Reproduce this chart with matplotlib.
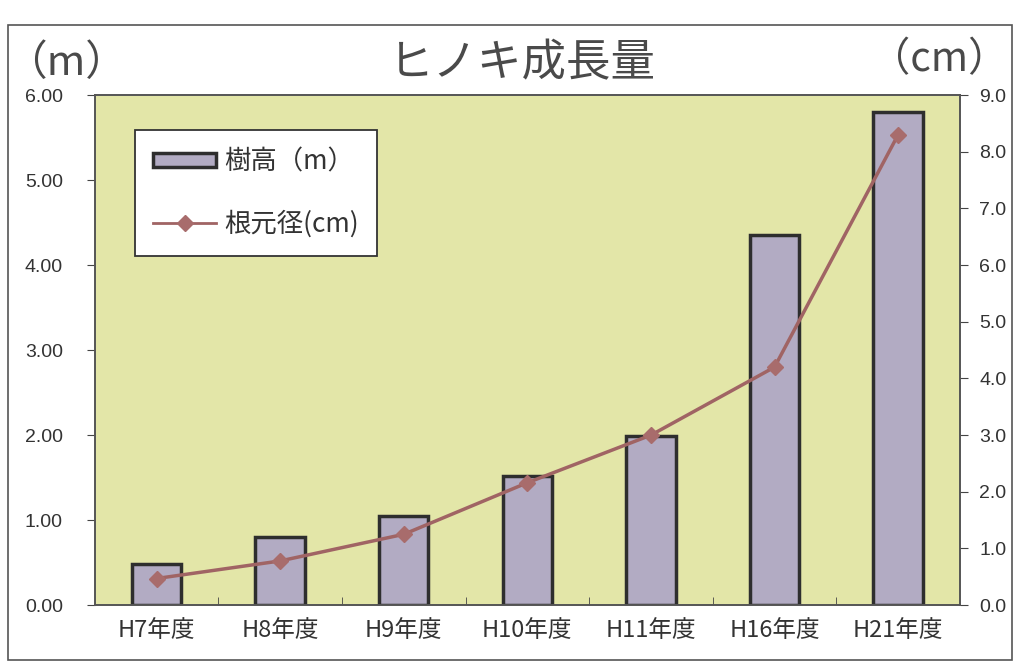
import matplotlib
matplotlib.use("Agg")
import matplotlib.pyplot as plt
from matplotlib.patches import Rectangle, Patch
from matplotlib.lines import Line2D
import numpy as np

categories = ["H7年度", "H8年度", "H9年度", "H10年度", "H11年度", "H16年度", "H21年度"]
height_m = [0.48, 0.80, 1.05, 1.52, 1.99, 4.36, 5.80]
diameter_cm = [0.47, 0.78, 1.25, 2.16, 3.0, 4.2, 8.3]
left_ticks = [0.0, 1.0, 2.0, 3.0, 4.0, 5.0, 6.0]
right_ticks = [0.0, 1.0, 2.0, 3.0, 4.0, 5.0, 6.0, 7.0, 8.0, 9.0]

CJK = ["Noto Sans CJK JP", "DejaVu Sans"]
NUM = ["Liberation Sans", "DejaVu Sans"]
plt.rcParams['font.family'] = CJK

BAR = "#b2abc3"
EDGE = "#2e2e2e"
LINE = "#a06464"
TXT = "#333333"

fig = plt.figure(figsize=(10.19, 6.65), dpi=100)
fig.patch.set_facecolor("white")
ax = fig.add_axes([0.093, 0.090, 0.849, 0.767])
ax.set_facecolor("#e3e6a8")

x = np.arange(len(categories))
ax.bar(x, height_m, width=0.4, color=BAR, edgecolor=EDGE, linewidth=2.5, zorder=2)
ax.set_xlim(-0.5, len(categories) - 0.5)
ax.set_ylim(0, 6)
ax.set_yticks(left_ticks)
ax.set_yticklabels([f"{v:.2f}" for v in left_ticks], fontfamily=NUM, fontsize=14, color=TXT)
ax.set_xticks(x)
ax.set_xticklabels(categories, fontsize=17, color=TXT)
ax.tick_params(axis="x", length=0, pad=10)
ax.set_xticks(np.arange(0.5, len(categories) - 0.5, 1), minor=True)
ax.tick_params(axis="x", which="minor", direction="in", length=6, color="#444444")
ax.tick_params(axis="y", direction="out", length=6, pad=17, color="#444444")
for s in ax.spines.values():
    s.set_color("#555555")
    s.set_linewidth(1.2)

ax2 = ax.twinx()
ax2.plot(x, diameter_cm, color=LINE, linewidth=2.5, marker="D", markersize=8,
         markerfacecolor="#a86c6c", markeredgecolor="#a86c6c", zorder=3)
ax2.set_ylim(0, 9)
ax2.set_yticks(right_ticks)
ax2.set_yticklabels([f"{v:.1f}" for v in right_ticks], fontfamily=NUM, fontsize=14, color=TXT)
ax2.tick_params(axis="y", direction="out", length=6, pad=8, color="#444444")
for s in ax2.spines.values():
    s.set_color("#555555")
    s.set_linewidth(1.2)

handles = [Patch(facecolor=BAR, edgecolor=EDGE, linewidth=2.5),
           Line2D([0], [0], color=LINE, linewidth=2, marker="D", markersize=8,
                  markerfacecolor="#a86c6c", markeredgecolor="#a86c6c")]
leg = ax2.legend(handles, ["樹高（m）", "根元径(cm)"], loc="upper left",
                 bbox_to_anchor=(0.046, 0.931), borderaxespad=0, fontsize=19,
                 frameon=True, fancybox=False, edgecolor=TXT, framealpha=1,
                 handlelength=2.4, handleheight=0.45, labelspacing=1.3,
                 borderpad=0.7, handletextpad=0.3)
leg.get_frame().set_linewidth(1.3)
for t in leg.get_texts():
    t.set_color(TXT)

fig.text(0.513, 0.905, "ヒノキ成長量", ha="center", va="center", fontsize=32, color="#4a4a4a")
fig.text(0.065, 0.905, "（m）", ha="center", va="center", fontsize=30, color="#4a4a4a")
fig.text(0.922, 0.91, "（cm）", ha="center", va="center", fontsize=29, color="#4a4a4a")

fig.add_artist(Rectangle((0.008, 0.008), 0.985, 0.955, transform=fig.transFigure,
                         fill=False, edgecolor="#555555", linewidth=1.2))

fig.savefig("out.png", dpi=100, facecolor="white")
